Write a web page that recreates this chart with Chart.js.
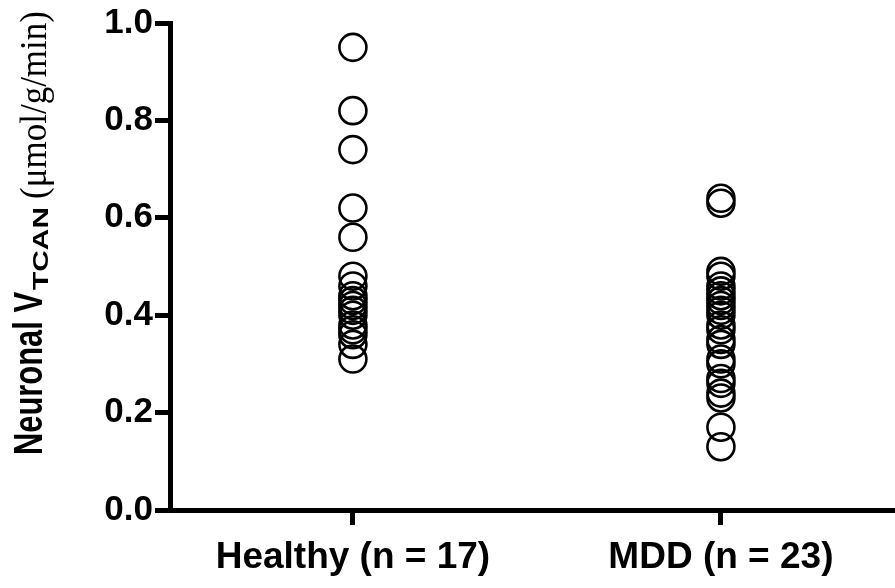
<!DOCTYPE html>
<html>
<head>
<meta charset="utf-8">
<script src="https://cdn.jsdelivr.net/npm/chart.js@4"></script>
<style>
  html, body { margin: 0; padding: 0; background: #fff; overflow: hidden; }
  #wrap { width: 895px; height: 588px; overflow: hidden; }
  canvas { display: block; }
</style>
</head>
<body>
<div id="wrap"><canvas id="c" width="895" height="588"></canvas></div>
<script>
// ---- data ----
const categories = ['Healthy (n = 17)', 'MDD (n = 23)'];
const healthyValues = [0.95, 0.82, 0.74, 0.62, 0.56, 0.48, 0.46, 0.44, 0.43, 0.42, 0.41, 0.40, 0.38, 0.37, 0.36, 0.34, 0.31];
const mddValues = [0.64, 0.63, 0.49, 0.48, 0.46, 0.45, 0.44, 0.43, 0.42, 0.41, 0.40, 0.38, 0.37, 0.35, 0.34, 0.31, 0.30, 0.27, 0.26, 0.24, 0.23, 0.17, 0.13];
const yTicks = [0.0, 0.2, 0.4, 0.6, 0.8, 1.0];
const yTitleMain = 'Neuronal V';
const yTitleSub = 'TCAN';
const yTitleUnit = '(\u03bcmol/g/min)';

const toPoints = (vals, idx) => vals.map(v => ({ x: idx, y: v }));

const yTitlePlugin = {
  id: 'yTitle',
  afterDraw(chart) {
    const ctx = chart.ctx;
    ctx.save();
    ctx.fillStyle = '#000';
    ctx.textBaseline = 'alphabetic';
    ctx.textAlign = 'left';
    ctx.rotate(-Math.PI / 2);
    // rotated coords: x' = -screenY, y' = screenX
    let pos = -455;
    ctx.font = 'bold 31px "Liberation Sans", Arial, sans-serif';
    const mainW = ctx.measureText(yTitleMain).width;
    ctx.save();
    ctx.translate(pos, 42);
    ctx.scale(163 / mainW, 1.3);
    ctx.fillText(yTitleMain, 0, 0);
    ctx.restore();
    pos += 163 + 2;
    ctx.font = 'bold 21px "Liberation Sans", Arial, sans-serif';
    const subW = ctx.measureText(yTitleSub).width;
    ctx.save();
    ctx.translate(pos, 48);
    ctx.scale(83 / subW, 1.05);
    ctx.fillText(yTitleSub, 0, 0);
    ctx.restore();
    pos += 83 + 8;
    ctx.font = '34px "Liberation Serif", "Times New Roman", serif';
    const unitW = ctx.measureText(yTitleUnit).width;
    ctx.save();
    ctx.translate(pos, 46);
    ctx.scale(188 / unitW, 1.1);
    ctx.fillText(yTitleUnit, 0, 0);
    ctx.restore();
    ctx.restore();
  }
};

new Chart(document.getElementById('c'), {
  type: 'scatter',
  data: {
    datasets: [
      { label: categories[0], data: toPoints(healthyValues, 0) },
      { label: categories[1], data: toPoints(mddValues, 1) }
    ]
  },
  options: {
    responsive: false,
    animation: false,
    events: [],
    layout: { autoPadding: false, padding: { top: 20, right: 0, left: 0, bottom: 0 } },
    elements: {
      point: {
        pointStyle: 'circle',
        radius: 13.5,
        borderWidth: 2.6,
        borderColor: '#000',
        backgroundColor: 'rgba(0,0,0,0)'
      }
    },
    plugins: {
      legend: { display: false },
      tooltip: { enabled: false }
    },
    scales: {
      x: {
        type: 'linear',
        min: -0.497,
        max: 1.473,
        afterBuildTicks(scale) { scale.ticks = [{ value: 0 }, { value: 1 }]; },
        afterFit(scale) { scale.height = 78; scale.paddingLeft = 0; scale.paddingRight = 0; },
        ticks: {
          callback: (v) => categories[v] !== undefined ? categories[v] : '',
          color: '#000',
          font: { family: '"Liberation Sans", Arial, sans-serif', size: 37, weight: 'bold' },
          padding: 11,
          maxRotation: 0,
          autoSkip: false
        },
        grid: {
          drawOnChartArea: false,
          drawTicks: true,
          tickLength: 15,
          tickWidth: 5,
          tickColor: '#000'
        },
        border: { display: true, width: 5, color: '#000' }
      },
      y: {
        type: 'linear',
        min: 0,
        max: 1,
        afterBuildTicks(scale) { scale.ticks = yTicks.map(v => ({ value: v })); },
        afterFit(scale) { scale.width = 170; },
        ticks: {
          callback: (v) => Number(v).toFixed(1),
          color: '#000',
          font: { family: '"Liberation Sans", Arial, sans-serif', size: 35, weight: 'bold' },
          padding: 2
        },
        grid: {
          drawOnChartArea: false,
          drawTicks: true,
          tickLength: 15,
          tickWidth: 5,
          tickColor: '#000'
        },
        border: { display: true, width: 5, color: '#000' }
      }
    }
  },
  plugins: [yTitlePlugin]
});
</script>
</body>
</html>
